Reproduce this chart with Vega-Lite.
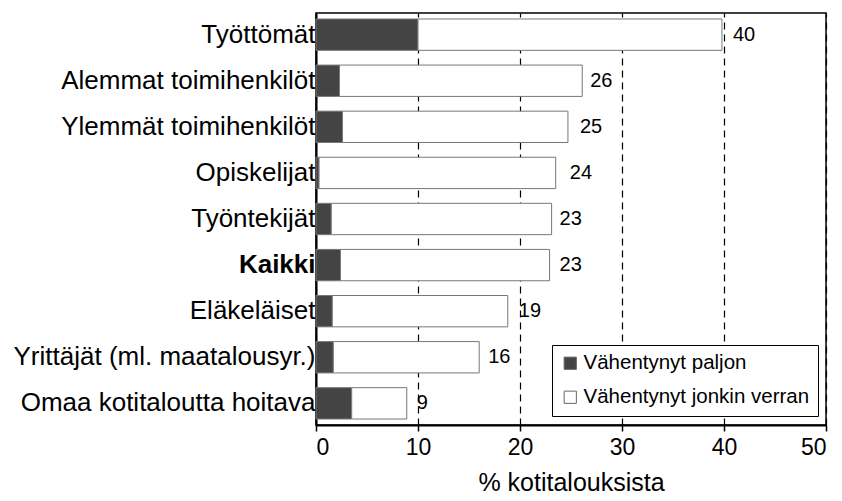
{
  "$schema": "https://vega.github.io/schema/vega-lite/v6.json",
  "width": 510,
  "height": 412,
  "autosize": {"type": "none"},
  "padding": {"left": 316, "top": 13, "right": 16, "bottom": 76},
  "background": "white",
  "config": {
    "view": {"stroke": "black", "strokeWidth": 1.5},
    "font": "Liberation Sans"
  },
  "datasets": {
    "osuudet": [
      {"ryhma": "Työttömät", "luokka": "Vähentynyt paljon", "osuus": 10.0},
      {"ryhma": "Työttömät", "luokka": "Vähentynyt jonkin verran", "osuus": 29.8},
      {"ryhma": "Alemmat toimihenkilöt", "luokka": "Vähentynyt paljon", "osuus": 2.3},
      {"ryhma": "Alemmat toimihenkilöt", "luokka": "Vähentynyt jonkin verran", "osuus": 23.8},
      {"ryhma": "Ylemmät toimihenkilöt", "luokka": "Vähentynyt paljon", "osuus": 2.6},
      {"ryhma": "Ylemmät toimihenkilöt", "luokka": "Vähentynyt jonkin verran", "osuus": 22.1},
      {"ryhma": "Opiskelijat", "luokka": "Vähentynyt paljon", "osuus": 0.3},
      {"ryhma": "Opiskelijat", "luokka": "Vähentynyt jonkin verran", "osuus": 23.2},
      {"ryhma": "Työntekijät", "luokka": "Vähentynyt paljon", "osuus": 1.5},
      {"ryhma": "Työntekijät", "luokka": "Vähentynyt jonkin verran", "osuus": 21.6},
      {"ryhma": "Kaikki", "luokka": "Vähentynyt paljon", "osuus": 2.4},
      {"ryhma": "Kaikki", "luokka": "Vähentynyt jonkin verran", "osuus": 20.5},
      {"ryhma": "Eläkeläiset", "luokka": "Vähentynyt paljon", "osuus": 1.6},
      {"ryhma": "Eläkeläiset", "luokka": "Vähentynyt jonkin verran", "osuus": 17.2},
      {"ryhma": "Yrittäjät (ml. maatalousyr.)", "luokka": "Vähentynyt paljon", "osuus": 1.7},
      {"ryhma": "Yrittäjät (ml. maatalousyr.)", "luokka": "Vähentynyt jonkin verran", "osuus": 14.3},
      {"ryhma": "Omaa kotitaloutta hoitava", "luokka": "Vähentynyt paljon", "osuus": 3.5},
      {"ryhma": "Omaa kotitaloutta hoitava", "luokka": "Vähentynyt jonkin verran", "osuus": 5.4}
    ],
    "yhteensa": [
      {"ryhma": "Työttömät", "yhteensa": 40},
      {"ryhma": "Alemmat toimihenkilöt", "yhteensa": 26},
      {"ryhma": "Ylemmät toimihenkilöt", "yhteensa": 25},
      {"ryhma": "Opiskelijat", "yhteensa": 24},
      {"ryhma": "Työntekijät", "yhteensa": 23},
      {"ryhma": "Kaikki", "yhteensa": 23},
      {"ryhma": "Eläkeläiset", "yhteensa": 19},
      {"ryhma": "Yrittäjät (ml. maatalousyr.)", "yhteensa": 16},
      {"ryhma": "Omaa kotitaloutta hoitava", "yhteensa": 9}
    ]
  },
  "encoding": {
    "y": {
      "field": "ryhma",
      "type": "nominal",
      "sort": ["Työttömät", "Alemmat toimihenkilöt", "Ylemmät toimihenkilöt", "Opiskelijat", "Työntekijät", "Kaikki", "Eläkeläiset", "Yrittäjät (ml. maatalousyr.)", "Omaa kotitaloutta hoitava"],
      "scale": {"paddingInner": 0.32, "paddingOuter": 0.13},
      "axis": {
        "title": null,
        "ticks": false,
        "domainColor": "black",
        "domainWidth": 2,
        "labelFontSize": 26,
        "labelColor": "black",
        "labelPadding": 1,
        "labelLimit": 400,
        "labelFontWeight": {"condition": {"test": "datum.value === 'Kaikki'", "value": "bold"}, "value": "normal"}
      }
    }
  },
  "layer": [
    {
      "data": {"name": "osuudet"},
      "mark": {"type": "bar", "stroke": "#777777", "strokeWidth": 1},
      "encoding": {
        "x": {
          "field": "osuus",
          "type": "quantitative",
          "stack": "zero",
          "scale": {"domain": [0, 50], "nice": false},
          "axis": {
            "title": "% kotitalouksista",
            "titleFontSize": 25,
            "titleFontWeight": "normal",
            "titleColor": "black",
            "titlePadding": 11,
            "values": [0, 10, 20, 30, 40, 50],
            "labelFontSize": 23,
            "labelColor": "black",
            "labelPadding": 5,
            "tickColor": "black",
            "tickSize": 6,
            "tickWidth": 1.5,
            "domainColor": "black",
            "domainWidth": 2,
            "grid": true,
            "gridColor": "black",
            "gridDash": [7, 5],
            "gridWidth": 1.2
          }
        },
        "color": {
          "field": "luokka",
          "type": "nominal",
          "scale": {"domain": ["Vähentynyt paljon", "Vähentynyt jonkin verran"], "range": ["#444444", "#ffffff"]},
          "legend": {
            "title": null,
            "orient": "none",
            "legendX": 236,
            "legendY": 332,
            "labelFontSize": 20.5,
            "labelColor": "black",
            "labelLimit": 400,
            "symbolType": "square",
            "symbolSize": 150,
            "symbolStrokeColor": "#666666",
            "symbolStrokeWidth": 1,
            "fillColor": "white",
            "strokeColor": "black",
            "padding": 8,
            "rowPadding": 13,
            "labelOffset": 3
          }
        },
        "order": {"field": "luokka", "sort": "descending"}
      }
    },
    {
      "data": {"name": "yhteensa"},
      "mark": {"type": "text", "align": "left", "baseline": "middle", "dx": 9, "fontSize": 20, "color": "black"},
      "encoding": {
        "x": {"field": "yhteensa", "type": "quantitative"},
        "text": {"field": "yhteensa", "type": "quantitative"}
      }
    }
  ]
}
